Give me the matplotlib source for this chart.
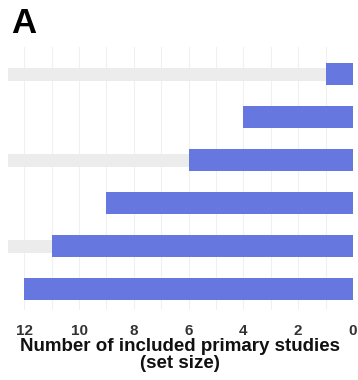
import matplotlib
matplotlib.use("Agg")
import matplotlib.pyplot as plt
import numpy as np

set_sizes = [1, 4, 6, 9, 11, 12]
striped_rows = [0, 2, 4]
x_ticks = [12, 10, 8, 6, 4, 2, 0]
xlabel = "Number of included primary studies\n(set size)"
panel_label = "A"

plt.rcParams['font.family'] = ['Liberation Sans', 'DejaVu Sans']

fig = plt.figure(figsize=(3.58, 3.8), dpi=100)
ax = fig.add_axes([0.022, 0.184, 0.964, 0.692])

xmax = 12.6
rows = np.arange(len(set_sizes))

# gray stripes
for r in striped_rows:
    ax.barh(r, xmax, height=0.3, color='#ececec', zorder=1)

ax.barh(rows, set_sizes, height=0.51, color='#6677e0', zorder=2)

ax.set_xlim(xmax, 0)
ax.set_ylim(5.49, -0.63)
ax.set_xticks(x_ticks)
ax.set_xticks(np.arange(0, 13, 1), minor=True)
ax.grid(axis='x', which='both', color='#f0f0f0', linewidth=0.8, zorder=0)
ax.set_axisbelow(True)
ax.set_yticks([])
ax.tick_params(axis='x', which='both', length=0, labelsize=11, colors='#333333', pad=10)
for lbl in ax.get_xticklabels():
    lbl.set_fontweight('bold')
for s in ax.spines.values():
    s.set_visible(False)

ax.set_xlabel(xlabel, fontsize=13.5, fontweight='bold', color='#111111', labelpad=0, linespacing=1.0)

fig.text(0.03, 1 - 33 / 380, panel_label, fontsize=25, fontweight='bold', ha='left', va='baseline')

fig.savefig("out.png", dpi=100)
